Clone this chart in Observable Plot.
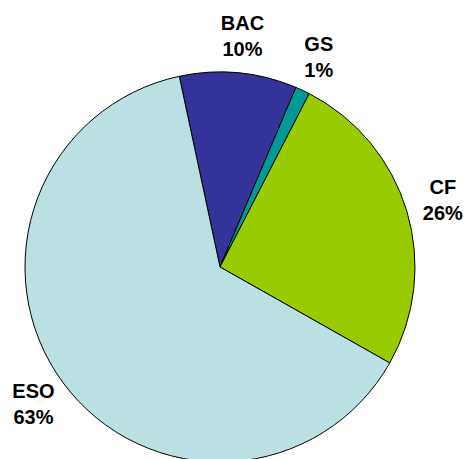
<!DOCTYPE html>
<html><head><meta charset="utf-8">
<script src="https://cdn.jsdelivr.net/npm/d3@7"></script>
<script src="https://cdn.jsdelivr.net/npm/@observablehq/plot@0.6"></script>
<style>body{margin:0;background:#fff;}</style>
</head><body><div id="chart"></div>
<script>
const categories = ["BAC", "GS", "CF", "ESO"];
const values = [9.7, 1.2, 25.6, 63.4];
const colors = ["#333399", "#009999", "#99CC00", "#BBE0E3"];

const W = 465, H = 459, cx = 220, cy = 267, R = 195;
const startAngle = -12.05 * Math.PI / 180;
const total = d3.sum(values);
const rows = categories.map((c, i) => ({category: c, value: values[i], color: colors[i]}));
const arcs = d3.pie().sort(null).value(d => d.value)
  .startAngle(startAngle).endAngle(startAngle + 2 * Math.PI)(rows);
const labelR = 1.19;
const labels = arcs.map(a => {
  const m = (a.startAngle + a.endAngle) / 2;
  return {x: labelR * Math.sin(m), y: labelR * Math.cos(m),
          text: `${a.data.category}\n${Math.round(a.data.value / total * 100)}%`};
});

function slices(index, scales, channels, dimensions, context) {
  const x0 = scales.x(0), y0 = scales.y(0), r = scales.x(1) - scales.x(0);
  const arc = d3.arc().innerRadius(0).outerRadius(r);
  const g = d3.create("svg:g").attr("transform", `translate(${x0},${y0})`);
  g.selectAll("path").data(arcs).join("path")
    .attr("d", arc)
    .attr("fill", d => d.data.color)
    .attr("stroke", "#000")
    .attr("stroke-width", 1)
    .attr("stroke-linejoin", "round");
  return g.node();
}

const chart = Plot.plot({
  width: W, height: H, margin: 0,
  x: {domain: [-cx / R, (W - cx) / R], axis: null},
  y: {domain: [-(H - cy) / R, cy / R], axis: null},
  style: {background: "#fff"},
  marks: [
    slices,
    Plot.text(labels, {x: "x", y: "y", text: "text", fontSize: 20, fontWeight: "bold",
      lineHeight: 1.3, dy: -2, fill: "#000", fontFamily: "Liberation Sans, Arial, sans-serif"})
  ]
});
document.getElementById("chart").appendChild(chart);
</script>
</body></html>
